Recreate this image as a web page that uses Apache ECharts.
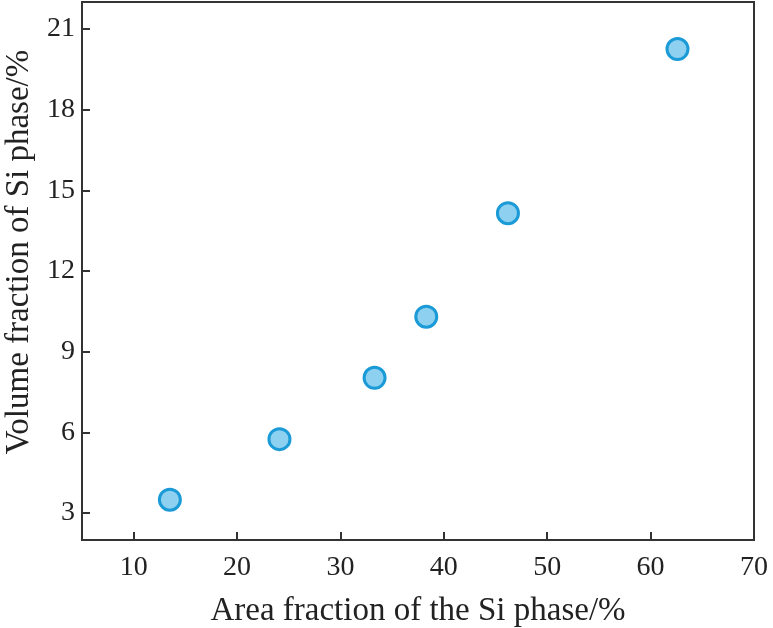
<!DOCTYPE html>
<html>
<head>
<meta charset="utf-8">
<script src="https://cdn.jsdelivr.net/npm/echarts@6/dist/echarts.min.js"></script>
<style>
  html, body { margin: 0; padding: 0; background: #fff; }
  #chart { width: 773px; height: 628px; }
</style>
</head>
<body>
<div id="chart"></div>
<script>
// area fraction (x) vs volume fraction (y) of the Si phase, in %
var areaFraction = [13.5, 24.1, 33.3, 38.3, 46.2, 62.6];
var volumeFraction = [3.5, 5.75, 8.03, 10.3, 14.15, 20.25];
var xTicks = [10, 20, 30, 40, 50, 60, 70];
var yTicks = [3, 6, 9, 12, 15, 18, 21];

var points = [];
for (var i = 0; i < areaFraction.length; i++) {
    points.push([areaFraction[i], volumeFraction[i]]);
}

var font = 'Liberation Serif';
var ink = '#333';

var chart = echarts.init(document.getElementById('chart'));
chart.setOption({
    backgroundColor: '#fff',
    animation: false,
    grid: {
        left: 82,
        right: 19,
        top: 2,
        bottom: 88,
        outerBoundsMode: 'none',
        containLabel: false,
        show: true,
        borderColor: ink,
        borderWidth: 2
    },
    xAxis: {
        type: 'value',
        min: 5,
        max: 70,
        name: 'Area fraction of the Si phase/%',
        nameLocation: 'middle',
        nameGap: 55,
        nameTextStyle: {fontFamily: font, fontSize: 33, color: '#222'},
        splitLine: {show: false},
        axisLine: {lineStyle: {color: ink, width: 2}},
        axisTick: {
            inside: true,
            length: 8,
            lineStyle: {color: ink, width: 2},
            customValues: xTicks
        },
        axisLabel: {
            fontFamily: font,
            fontSize: 28,
            color: '#222',
            margin: 14,
            hideOverlap: false,
            customValues: xTicks
        }
    },
    yAxis: {
        type: 'value',
        min: 2,
        max: 22,
        name: 'Volume fraction of Si phase/%',
        nameLocation: 'middle',
        nameGap: 45,
        nameTextStyle: {fontFamily: font, fontSize: 33, color: '#222', padding: [0, 0, 0, 38]},
        splitLine: {show: false},
        axisLine: {lineStyle: {color: ink, width: 2}},
        axisTick: {
            inside: true,
            length: 8,
            lineStyle: {color: ink, width: 2},
            customValues: yTicks
        },
        axisLabel: {
            fontFamily: font,
            fontSize: 28,
            color: '#222',
            margin: 7,
            customValues: yTicks
        }
    },
    series: [{
        type: 'scatter',
        data: points,
        symbol: 'circle',
        symbolSize: 21,
        itemStyle: {
            color: '#8dd0f0',
            borderColor: '#1a9ad6',
            borderWidth: 3,
            opacity: 1
        }
    }]
});

window.addEventListener('resize', function () {
    chart.resize();
});
</script>
</body>
</html>
